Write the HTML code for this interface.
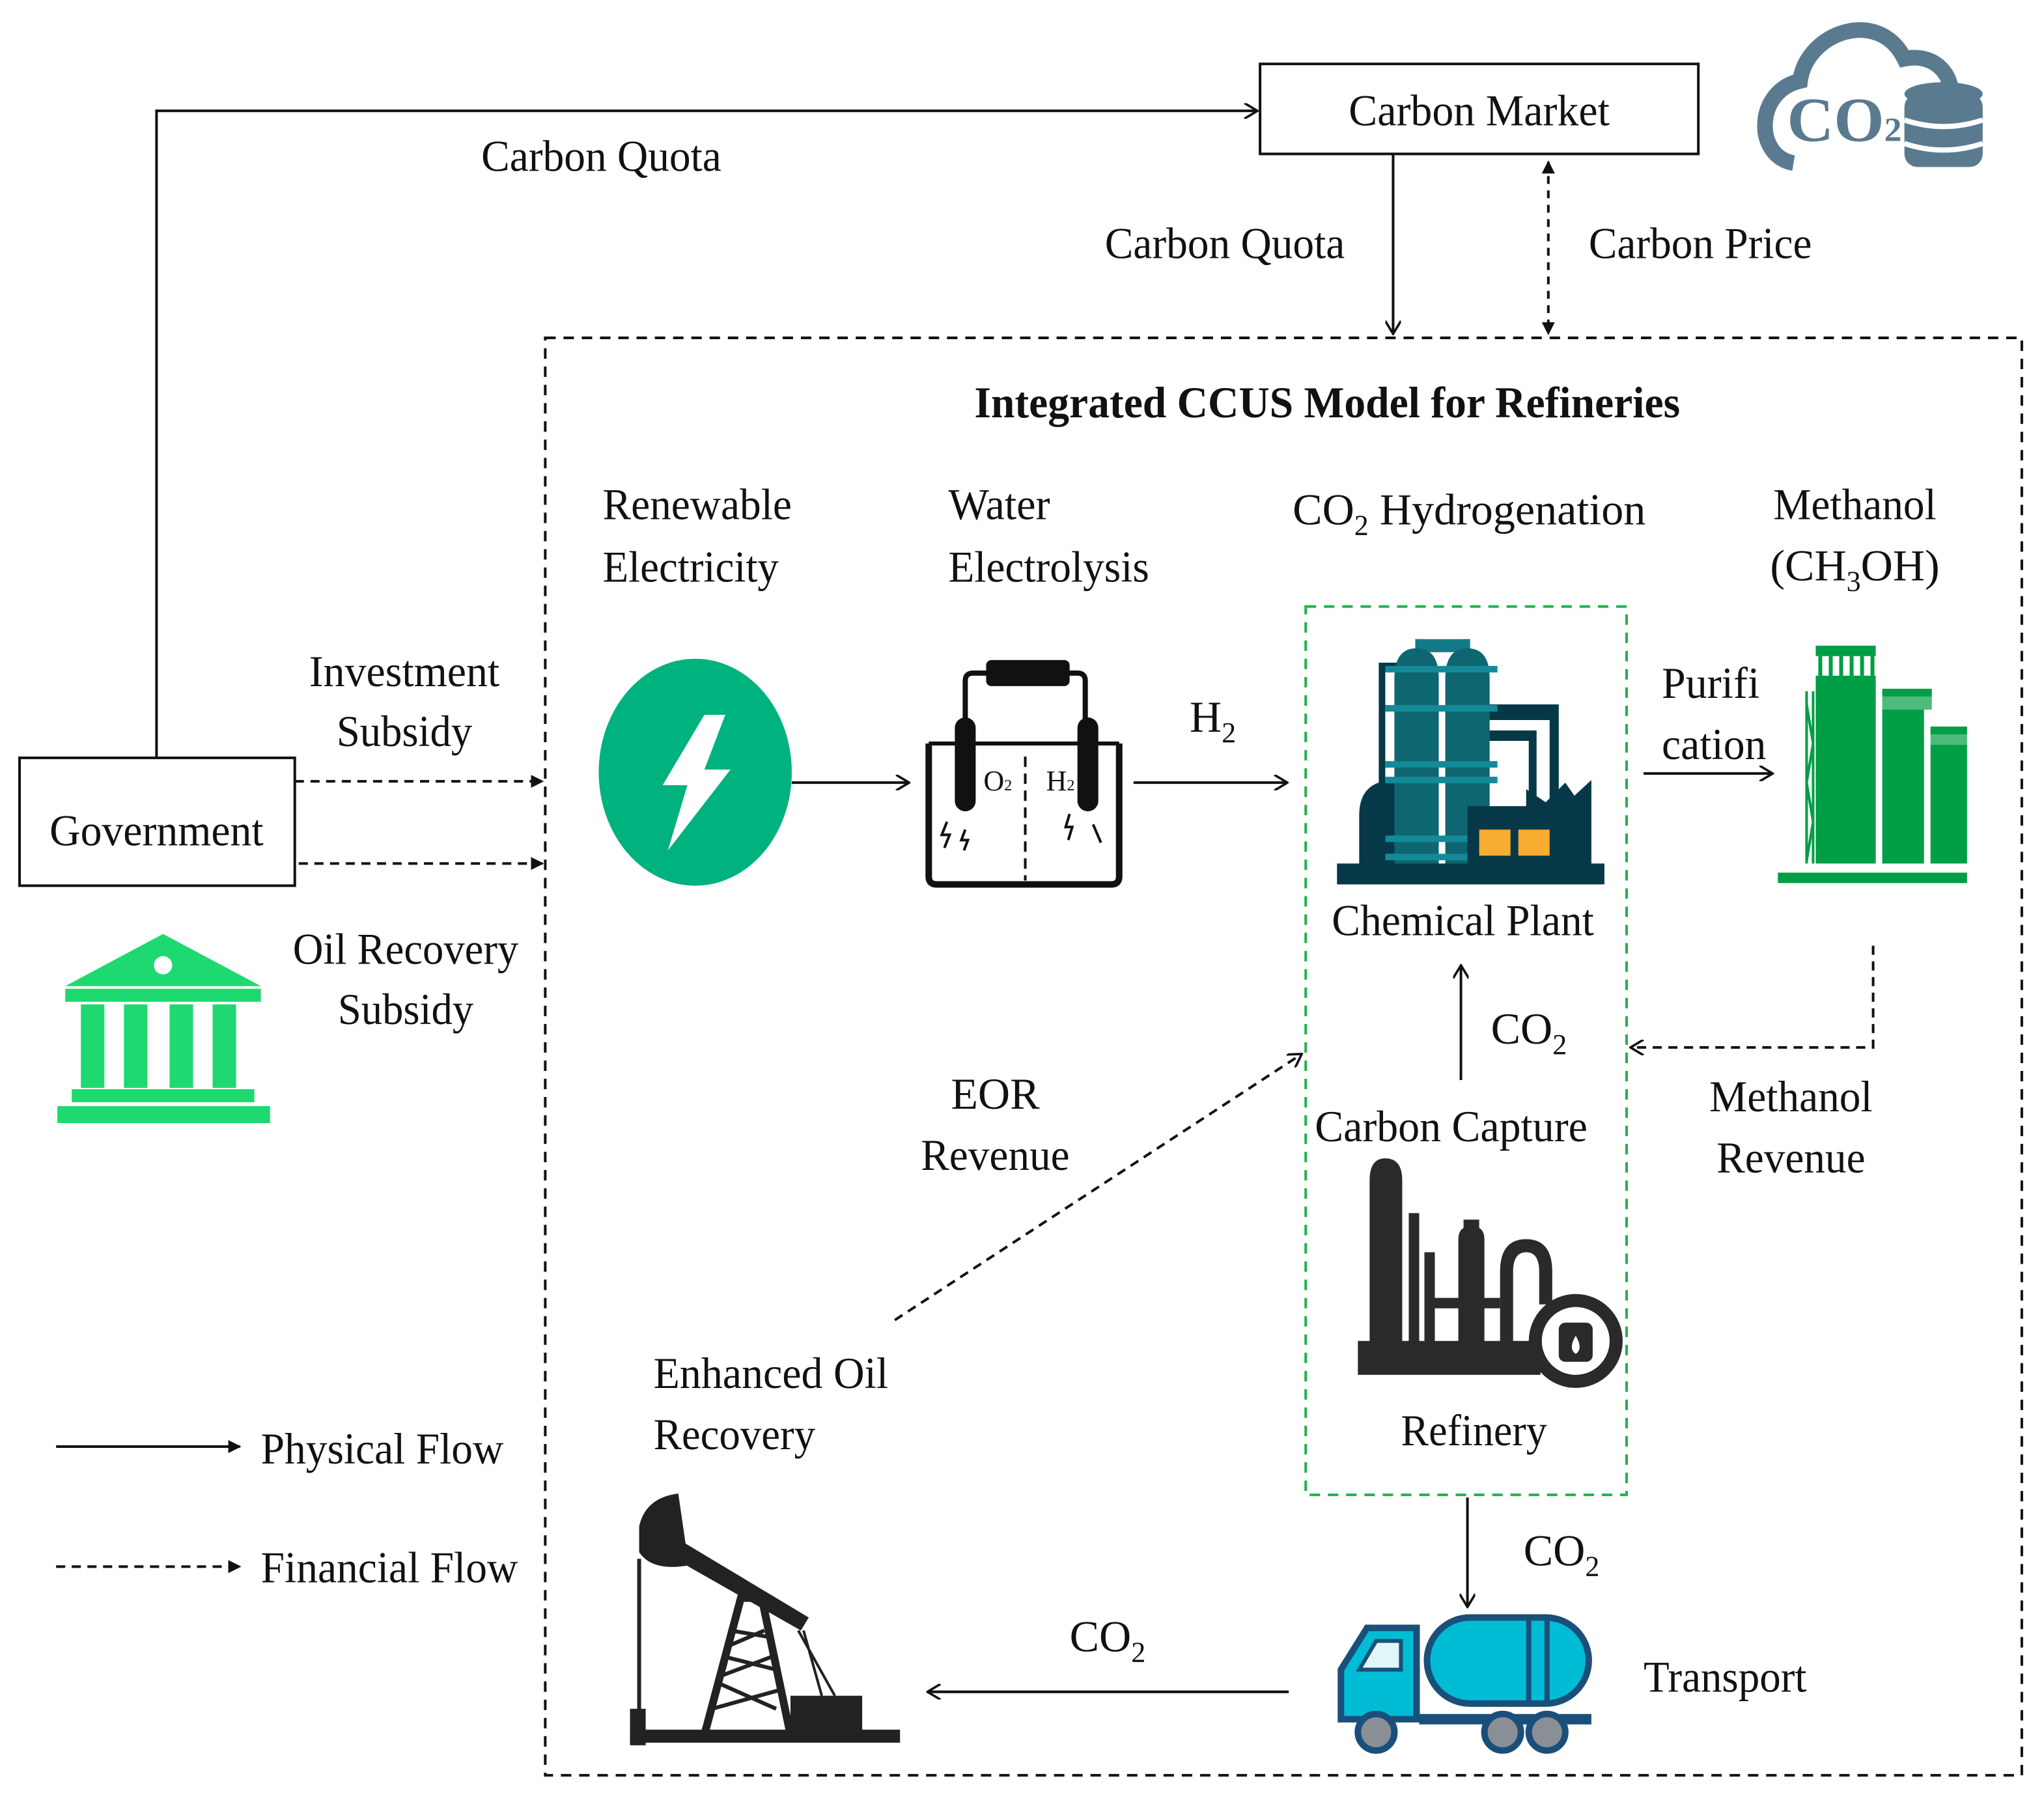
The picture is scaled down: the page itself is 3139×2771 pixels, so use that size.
<!DOCTYPE html>
<html><head><meta charset="utf-8"><style>
html,body{margin:0;padding:0;background:#fff;}
svg{display:block;}
text{font-family:"Liberation Serif",serif;fill:#111;}
</style></head><body>
<svg width="3139" height="2771" viewBox="0 0 1567 1383" preserveAspectRatio="none" xmlns="http://www.w3.org/2000/svg">
<defs>
<marker id="open" viewBox="0 0 12 12" refX="11" refY="6" markerWidth="12" markerHeight="12" markerUnits="userSpaceOnUse" orient="auto-start-reverse"><path d="M1,0 L11,6 L1,12" fill="none" stroke="#111" stroke-width="1.8"/></marker>
<marker id="fill" viewBox="0 0 10 10" refX="9" refY="5" markerWidth="10" markerHeight="10" markerUnits="userSpaceOnUse" orient="auto-start-reverse"><path d="M0,0 L10,5 L0,10 Z" fill="#111"/></marker>
</defs>
<g stroke="#111" stroke-width="2" fill="none">
<rect x="966" y="49" width="336" height="69"/>
<rect x="15" y="581" width="211" height="98"/>
<path d="M120,580 V85 H964" marker-end="url(#open)"/>
<path d="M1068,118 V256" marker-end="url(#open)"/>
<path d="M1187,124 V256" stroke-dasharray="6,5" marker-end="url(#fill)" marker-start="url(#fill)"/>
<rect x="418" y="259" width="1132" height="1102" stroke-dasharray="8,6"/>
<path d="M226,599 H416" stroke-dasharray="7,5" marker-end="url(#fill)"/>
<path d="M229,662 H416" stroke-dasharray="7,5" marker-end="url(#fill)"/>
<path d="M607,600 H697" marker-end="url(#open)"/>
<path d="M869,600 H987" marker-end="url(#open)"/>
<path d="M1260,593 H1359" marker-end="url(#open)"/>
<path d="M1120,828 V740" marker-end="url(#open)"/>
<path d="M1436,725 V803 H1250" stroke-dasharray="7,5" marker-end="url(#open)"/>
<path d="M686,1012 L998,808" stroke-dasharray="7,5" marker-end="url(#open)"/>
<path d="M1125,1148 V1232" marker-end="url(#open)"/>
<path d="M988,1297 H711" marker-end="url(#open)"/>
<path d="M43,1109 H184" marker-end="url(#fill)"/>
<path d="M43,1201 H184" stroke-dasharray="7,5" marker-end="url(#fill)"/>
</g>
<rect x="1001" y="465" width="246" height="681" fill="none" stroke="#22b14c" stroke-width="2" stroke-dasharray="8,6"/>

<g font-size="34">
<text x="1134" y="96" text-anchor="middle" textLength="200" lengthAdjust="spacingAndGlyphs">Carbon Market</text>
<text x="369" y="131" textLength="184" lengthAdjust="spacingAndGlyphs">Carbon Quota</text>
<text x="847" y="198" textLength="184" lengthAdjust="spacingAndGlyphs">Carbon Quota</text>
<text x="1218" y="198" textLength="171" lengthAdjust="spacingAndGlyphs">Carbon Price</text>
<text x="747" y="320" font-weight="bold" textLength="541" lengthAdjust="spacingAndGlyphs">Integrated CCUS Model for Refineries</text>
<text x="38" y="648" textLength="164" lengthAdjust="spacingAndGlyphs">Government</text>
<text x="310" y="526" text-anchor="middle" textLength="146" lengthAdjust="spacingAndGlyphs">Investment</text>
<text x="310" y="572" text-anchor="middle" textLength="104" lengthAdjust="spacingAndGlyphs">Subsidy</text>
<text x="311" y="739" text-anchor="middle" textLength="173" lengthAdjust="spacingAndGlyphs">Oil Recovery</text>
<text x="311" y="785" text-anchor="middle" textLength="104" lengthAdjust="spacingAndGlyphs">Subsidy</text>
<text x="462" y="398" textLength="145" lengthAdjust="spacingAndGlyphs">Renewable</text>
<text x="462" y="446" textLength="135" lengthAdjust="spacingAndGlyphs">Electricity</text>
<text x="727" y="398" textLength="78" lengthAdjust="spacingAndGlyphs">Water</text>
<text x="727" y="446" textLength="154" lengthAdjust="spacingAndGlyphs">Electrolysis</text>
<text x="912" y="561">H<tspan font-size="22" dy="8">2</tspan></text>
<text x="991" y="402">CO<tspan font-size="22" dy="8">2</tspan><tspan dy="-8"> Hydrogenation</tspan></text>
<text x="1422" y="398" text-anchor="middle" textLength="125" lengthAdjust="spacingAndGlyphs">Methanol</text>
<text x="1422" y="445" text-anchor="middle">(CH<tspan font-size="22" dy="8">3</tspan><tspan dy="-8">OH)</tspan></text>
<text x="1274" y="535" textLength="75" lengthAdjust="spacingAndGlyphs">Purifi</text>
<text x="1274" y="582" textLength="80" lengthAdjust="spacingAndGlyphs">cation</text>
<text x="1021" y="717" textLength="201" lengthAdjust="spacingAndGlyphs">Chemical Plant</text>
<text x="1143" y="800">CO<tspan font-size="22" dy="8">2</tspan></text>
<text x="1008" y="875" textLength="209" lengthAdjust="spacingAndGlyphs">Carbon Capture</text>
<text x="1074" y="1108" textLength="112" lengthAdjust="spacingAndGlyphs">Refinery</text>
<text x="1373" y="852" text-anchor="middle" textLength="125" lengthAdjust="spacingAndGlyphs">Methanol</text>
<text x="1373" y="899" text-anchor="middle" textLength="114" lengthAdjust="spacingAndGlyphs">Revenue</text>
<text x="763" y="850" text-anchor="middle">EOR</text>
<text x="763" y="897" text-anchor="middle" textLength="114" lengthAdjust="spacingAndGlyphs">Revenue</text>
<text x="501" y="1064" textLength="180" lengthAdjust="spacingAndGlyphs">Enhanced Oil</text>
<text x="501" y="1111" textLength="124" lengthAdjust="spacingAndGlyphs">Recovery</text>
<text x="1168" y="1200">CO<tspan font-size="22" dy="8">2</tspan></text>
<text x="820" y="1266">CO<tspan font-size="22" dy="8">2</tspan></text>
<text x="1260" y="1297" textLength="125" lengthAdjust="spacingAndGlyphs">Transport</text>
<text x="200" y="1122" textLength="186" lengthAdjust="spacingAndGlyphs">Physical Flow</text>
<text x="200" y="1213" textLength="197" lengthAdjust="spacingAndGlyphs">Financial Flow</text>
</g>

<!-- CO2 cloud icon -->
<g>
<path d="M1375,125 C1345,120 1345,70 1380,62 C1385,25 1440,5 1460,45 C1485,40 1500,60 1495,80" fill="none" stroke="#5a7a90" stroke-width="12"/>
<text x="1370" y="108" font-family="Liberation Sans,sans-serif" font-weight="bold" font-size="48" textLength="88" lengthAdjust="spacingAndGlyphs" style="fill:#5a7a90">CO<tspan font-size="26">2</tspan></text>
<ellipse cx="1490" cy="72" rx="30" ry="9" fill="#5a7a90"/>
<rect x="1460" y="72" width="60" height="56" rx="10" fill="#5a7a90"/>
<path d="M1460,92 Q1490,102 1520,92 M1460,110 Q1490,120 1520,110" stroke="#fff" stroke-width="4" fill="none"/>
</g>

<!-- bank icon -->
<g fill="#1ed96f">
<path d="M125,716 L200,756 L50,756 Z"/>
<circle cx="125" cy="740" r="7" fill="#fff"/>
<rect x="50" y="758" width="150" height="10"/>
<rect x="62" y="770" width="18" height="64"/><rect x="95" y="770" width="18" height="64"/><rect x="130" y="770" width="18" height="64"/><rect x="163" y="770" width="18" height="64"/>
<rect x="55" y="835" width="140" height="10"/>
<rect x="44" y="848" width="163" height="13"/>
</g>

<!-- renewable electricity -->
<ellipse cx="533" cy="592" rx="74" ry="87" fill="#00b27d"/>
<path d="M540,548 L556,548 L540,590 L560,590 L512,652 L527,602 L508,602 Z" fill="#fff"/>

<!-- electrolysis -->
<g stroke="#111" fill="none" stroke-width="5">
<path d="M712,570 V672 Q712,678 718,678 H852 Q858,678 858,672 V570"/>
<path d="M712,570 H858" stroke-width="3"/>
<path d="M740,555 V522 Q740,516 746,516 H826 Q832,516 832,522 V555" stroke-width="4"/>
<path d="M786,580 V675" stroke-width="2" stroke-dasharray="8,5"/>
</g>
<rect x="756" y="506" width="64" height="20" rx="4" fill="#111"/>
<rect x="732" y="550" width="16" height="72" rx="8" fill="#111"/>
<rect x="826" y="550" width="16" height="72" rx="8" fill="#111"/>
<text x="754" y="606" font-size="22">O<tspan font-size="12">2</tspan></text>
<text x="802" y="606" font-size="22">H<tspan font-size="12">2</tspan></text>
<path d="M726,630 l-4,10 l6,0 l-4,10 M740,636 l-3,8 l5,0 l-3,8 M820,624 l-3,10 l5,0 l-3,10 M838,632 l6,14" stroke="#111" stroke-width="2" fill="none"/>

<!-- chemical plant -->
<g>
<rect x="1085" y="490" width="42" height="10" fill="#137a88"/>
<rect x="1085" y="490" width="6" height="20" fill="#137a88"/><rect x="1121" y="490" width="6" height="20" fill="#137a88"/>
<path d="M1042,670 V625 Q1042,598 1070,598 H1075 V670 Z" fill="#063848"/>
<path d="M1057,620 V508 H1074 V515 H1062 V610 H1074 V620 Z" fill="#063848"/>
<path d="M1125,540 H1195 V670 H1188 V552 H1125 Z M1125,560 H1178 V670 H1172 V568 H1125 Z" fill="#063848"/>
<path d="M1069,670 V520 Q1069,497 1086,497 Q1103,497 1103,520 V670 Z" fill="#0e6670"/>
<path d="M1108,670 V520 Q1108,497 1125,497 Q1142,497 1142,520 V670 Z" fill="#0e6670"/>
<path d="M1062,513 H1148 M1062,543 H1148 M1062,586 H1148 M1062,598 H1148 M1062,643 H1148 M1062,657 H1148" stroke="#148a98" stroke-width="5"/>
<path d="M1125,665 V618 H1170 V605 L1185,615 L1200,600 L1207,610 L1220,598 V665 Z" fill="#063848"/>
<rect x="1134" y="636" width="24" height="20" fill="#f8ac30"/><rect x="1164" y="636" width="24" height="20" fill="#f8ac30"/>
<rect x="1025" y="662" width="205" height="16" fill="#063848"/>
</g>

<!-- methanol tanks -->
<g fill="#009e45">
<rect x="1392" y="495" width="46" height="8"/>
<rect x="1394" y="503" width="3" height="15"/><rect x="1402" y="503" width="3" height="15"/><rect x="1410" y="503" width="3" height="15"/><rect x="1418" y="503" width="3" height="15"/><rect x="1426" y="503" width="3" height="15"/><rect x="1434" y="503" width="3" height="15"/>
<rect x="1392" y="518" width="46" height="144"/>
<rect x="1443" y="528" width="38" height="6"/>
<rect x="1443" y="534" width="38" height="10" opacity="0.7"/>
<rect x="1443" y="544" width="32" height="118"/>
<rect x="1480" y="557" width="28" height="6"/>
<rect x="1480" y="563" width="28" height="8" opacity="0.7"/>
<rect x="1480" y="571" width="28" height="91"/>
<path d="M1385,530 V662 M1390,530 V662 M1385,540 L1390,570 L1385,600 L1390,630 L1385,660" stroke="#009e45" stroke-width="2" fill="none"/>
<rect x="1363" y="669" width="145" height="8"/>
</g>

<!-- refinery -->
<g fill="#2a2a2a">
<path d="M1050,1030 V905 Q1050,888 1062,888 Q1075,888 1075,905 V1030 Z"/>
<rect x="1080" y="930" width="8" height="100"/>
<rect x="1092" y="960" width="8" height="70"/>
<path d="M1118,1030 V950 Q1118,940 1128,940 Q1138,940 1138,950 V1030 Z"/>
<rect x="1122" y="935" width="12" height="8"/>
<path d="M1150,1030 V975 Q1150,950 1170,950 Q1190,950 1190,975 V1000 H1180 V975 Q1180,960 1170,960 Q1160,960 1160,975 V1030 Z"/>
<rect x="1100" y="995" width="50" height="8"/>
<rect x="1041" y="1028" width="140" height="26"/>
<circle cx="1208" cy="1028" r="36"/>
<circle cx="1208" cy="1028" r="26" fill="#fff"/>
<rect x="1195" y="1014" width="26" height="30" rx="5"/>
<path d="M1208,1024 Q1202,1034 1208,1038 Q1214,1034 1208,1024 Z" fill="#fff"/>
</g>

<!-- oil pump -->
<g fill="#222">
<path d="M490,1170 Q495,1148 520,1145 L528,1200 Q500,1205 490,1190 Z"/>
<path d="M520,1180 L620,1240 L614,1250 L512,1192 Z"/>
<path d="M490,1195 V1330" stroke="#222" stroke-width="3"/>
<path d="M540,1330 L568,1225 L584,1225 L606,1330 Z" fill="none" stroke="#222" stroke-width="6"/>
<path d="M550,1290 L595,1310 M555,1270 L595,1280 M560,1250 L590,1255 M546,1310 L600,1295 M552,1285 L592,1270 M558,1262 L586,1250" stroke="#222" stroke-width="3"/>
<path d="M612,1250 L640,1300 M616,1250 L630,1300" stroke="#222" stroke-width="2"/>
<rect x="606" y="1300" width="55" height="30"/>
<rect x="483" y="1326" width="207" height="10"/>
<rect x="483" y="1310" width="12" height="28"/>
</g>

<!-- truck -->
<g stroke="#1a4f7a" stroke-width="5">
<path d="M1028,1318 V1280 L1048,1248 H1086 V1318 Z" fill="#00bcd4"/>
<path d="M1042,1280 L1055,1258 H1074 V1280 Z" fill="#e0f7fa" stroke-width="3"/>
<rect x="1094" y="1240" width="124" height="66" rx="33" fill="#00bcd4"/>
<path d="M1172,1240 V1306 M1186,1240 V1306" stroke-width="4"/>
<path d="M1088,1318 H1220" stroke-width="8"/>
<circle cx="1055" cy="1328" r="14" fill="#8a8f95"/>
<circle cx="1152" cy="1328" r="14" fill="#8a8f95"/>
<circle cx="1186" cy="1328" r="14" fill="#8a8f95"/>
</g>
</svg>
</body></html>
